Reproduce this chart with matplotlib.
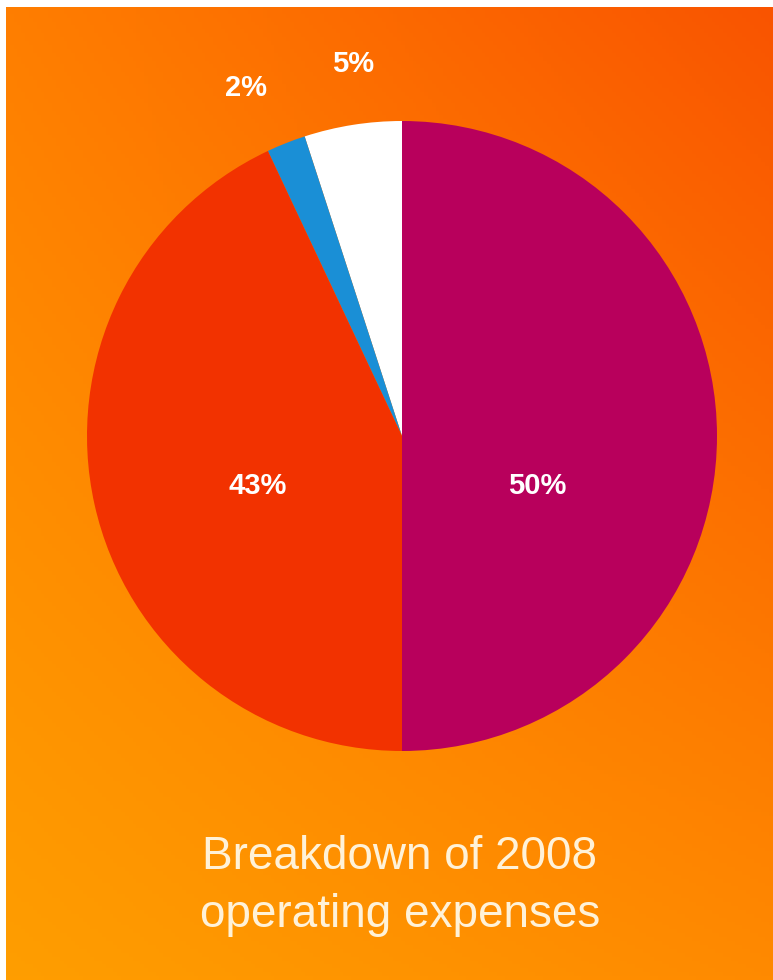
import numpy as np
import matplotlib
matplotlib.use("Agg")
import matplotlib.pyplot as plt
from matplotlib.colors import to_rgb

# slice data (counter-clockwise from 12 o'clock)
shares = [5, 2, 43, 50]
labels = ["5%", "2%", "43%", "50%"]
colors = ["#FFFFFF", "#1A8FD6", "#F23200", "#B8005C"]
title_lines = ["Breakdown of 2008", "operating expenses"]

W, H = 773, 980
fig = plt.figure(figsize=(W / 100, H / 100), dpi=100)
fig.patch.set_facecolor("white")

# gradient background (white strip on top and left like the scan)
bg = fig.add_axes([6 / W, 0, 1 - 6 / W, (H - 7) / H])
tl, tr = np.array(to_rgb("#FF7E00")), np.array(to_rgb("#F95400"))
bl, br = np.array(to_rgb("#FF9E00")), np.array(to_rgb("#FF8A00"))
u = np.linspace(0, 1, 200)[None, :, None]
v = np.linspace(0, 1, 250)[:, None, None]
grad = (1 - v) * ((1 - u) * tl + u * tr) + v * ((1 - u) * bl + u * br)
bg.imshow(grad, aspect="auto", extent=[0, 1, 0, 1])
bg.axis("off")

# pie, centred at (402, 436) px with radius 315 px
cx, cy, r = 402, 436, 315
ax = fig.add_axes([(cx - r) / W, (H - cy - r) / H, 2 * r / W, 2 * r / H])
ax.patch.set_alpha(0)
wedges, _ = ax.pie(shares, colors=colors, startangle=90, counterclock=True,
                   radius=1, wedgeprops=dict(linewidth=0))
ax.set_xlim(-1, 1)
ax.set_ylim(-1, 1)
ax.axis("off")

for w, lab, s in zip(wedges, labels, shares):
    ang = np.deg2rad((w.theta1 + w.theta2) / 2)
    if s > 10:
        # big slices: labels sit on one line below the centre
        x, y = 0.45 * np.cos(ang) - 0.02, -0.16
    else:
        ang = ang + np.deg2rad(2.5 if s < 3 else -1.5)
        rr = 1.21 if s < 3 else 1.19
        x, y = rr * np.cos(ang), rr * np.sin(ang)
    ax.text(x, y, lab, color="white",
            fontsize=21, fontweight="bold", family="Liberation Sans",
            ha="center", va="center", clip_on=False)

fig.text(400 / W, 1 - 857 / H, title_lines[0], color="#FFF2D8", fontsize=33,
         family="Liberation Sans", ha="center", va="center")
fig.text(400 / W, 1 - 915 / H, title_lines[1], color="#FFF2D8", fontsize=33,
         family="Liberation Sans", ha="center", va="center")

fig.savefig("out.png", dpi=100)
